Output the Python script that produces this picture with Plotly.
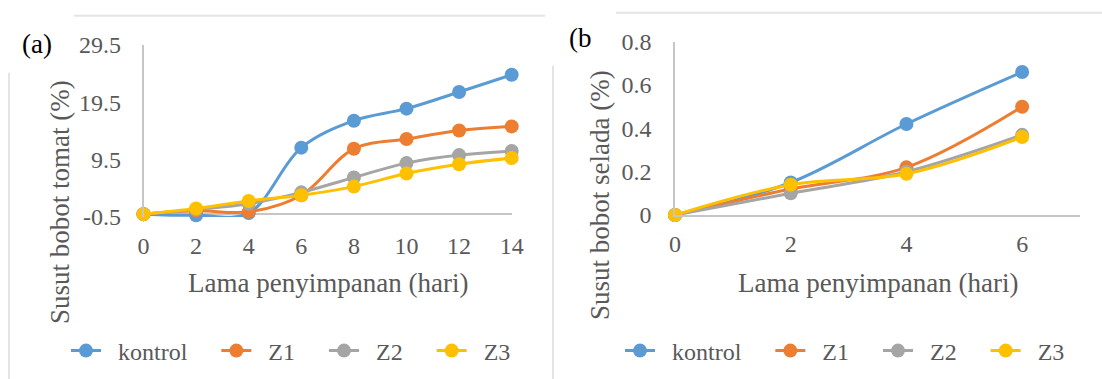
import plotly.graph_objects as go

# Weight loss during storage: (a) tomato, (b) lettuce
days_a = [0, 2, 4, 6, 8, 10, 12, 14]
kontrol_a = [0, -0.2, 0.2, 11.6, 16.3, 18.4, 21.3, 24.3]
z1_a = [0, 0.6, 0.4, 3.3, 11.4, 13.1, 14.6, 15.3]
z2_a = [0, 0.8, 1.8, 3.8, 6.4, 8.9, 10.3, 11.0]
z3_a = [0, 1.0, 2.3, 3.3, 4.8, 7.1, 8.7, 9.8]

days_b = [0, 2, 4, 6]
kontrol_b = [0, 0.15, 0.42, 0.66]
z1_b = [0, 0.12, 0.22, 0.50]
z2_b = [0, 0.10, 0.20, 0.37]
z3_b = [0, 0.14, 0.19, 0.36]

series_names = ["kontrol", "Z1", "Z2", "Z3"]
colors = ["#5B9BD5", "#ED7D31", "#A5A5A5", "#FFC000"]

yticks_a = [-0.5, 9.5, 19.5, 29.5]
ytick_text_a = ["-0.5", "9.5", "19.5", "29.5"]
xticks_a = [0, 2, 4, 6, 8, 10, 12, 14]
yticks_b = [0, 0.2, 0.4, 0.6, 0.8]
ytick_text_b = ["0", "0.2", "0.4", "0.6", "0.8"]
xticks_b = [0, 2, 4, 6]

W, H = 1102, 379
FONT = "Liberation Serif, Times New Roman, serif"
GREY_TEXT = "#595959"
AXIS_GREY = "#C6C6C6"
FRAME_GREY = "#E4E4E4"
NBSP = "\u00a0"


def px(x):
    return x / W


def py(y):
    return 1 - y / H


def legend_label(name):
    # pad legend entries so the symbol/text spacing is wider than plotly's default
    return NBSP * 2 + name + NBSP * 4


fig = go.Figure()

for name, ys, c in zip(series_names, [kontrol_a, z1_a, z2_a, z3_a], colors):
    fig.add_trace(go.Scatter(
        x=days_a, y=ys, name=legend_label(name), mode="lines+markers",
        line=dict(color=c, width=3, shape="spline", smoothing=1.0),
        marker=dict(color=c, size=14),
        xaxis="x", yaxis="y", legend="legend", cliponaxis=False,
    ))

for name, ys, c in zip(series_names, [kontrol_b, z1_b, z2_b, z3_b], colors):
    fig.add_trace(go.Scatter(
        x=days_b, y=ys, name=legend_label(name), mode="lines+markers",
        line=dict(color=c, width=3, shape="spline", smoothing=1.0),
        marker=dict(color=c, size=14),
        xaxis="x2", yaxis="y2", legend="legend2", cliponaxis=False,
    ))

tickfont = dict(family=FONT, size=24, color=GREY_TEXT)
hidden_tick = dict(ticks="outside", tickcolor="rgba(0,0,0,0)", automargin=False)

legend_common = dict(orientation="h", xanchor="left", yanchor="middle",
                     xref="container", yref="container",
                     font=dict(family=FONT, size=24, color=GREY_TEXT),
                     bgcolor="rgba(0,0,0,0)", itemclick=False)

fig.update_layout(
    width=W, height=H,
    margin=dict(l=0, r=0, t=0, b=0, autoexpand=False),
    paper_bgcolor="white", plot_bgcolor="white",
    font=dict(family=FONT, color=GREY_TEXT),
    xaxis=dict(domain=[px(143.5), px(511.7)], range=[0, 14], tickvals=xticks_a,
               showgrid=False, zeroline=False, showline=False,
               tickfont=tickfont, ticklen=7, anchor="y", **hidden_tick),
    yaxis=dict(domain=[py(217), py(45)], range=[-0.5, 29.5], tickvals=yticks_a,
               ticktext=ytick_text_a, showgrid=False, zeroline=True,
               zerolinecolor=AXIS_GREY, zerolinewidth=1.5,
               showline=True, linecolor=AXIS_GREY, linewidth=1.5,
               tickfont=tickfont, ticklen=16, anchor="x", **hidden_tick),
    xaxis2=dict(domain=[px(675), px(1080)], range=[0, 7], tickvals=xticks_b,
                showgrid=False, zeroline=False, showline=True,
                linecolor=AXIS_GREY, linewidth=1.5,
                tickfont=tickfont, ticklen=6, anchor="y2", **hidden_tick),
    yaxis2=dict(domain=[py(215), py(41.7)], range=[0, 0.8], tickvals=yticks_b,
                ticktext=ytick_text_b, showgrid=False, zeroline=False,
                showline=True, linecolor=AXIS_GREY, linewidth=1.5,
                tickfont=tickfont, ticklen=17, anchor="x2", **hidden_tick),
    legend=dict(x=px(66), y=py(351), **legend_common),
    legend2=dict(x=px(620), y=py(351), **legend_common),
    showlegend=True,
)

# Axis titles and panel labels
title_font = dict(family=FONT, size=27, color=GREY_TEXT)
annotations = [
    dict(text="Lama penyimpanan (hari)", x=px(328), y=py(283)),
    dict(text="Lama penyimpanan (hari)", x=px(878), y=py(283)),
    dict(text="Susut bobot tomat (%)", x=px(60), y=py(202), textangle=-90),
    dict(text="Susut bobot selada (%)", x=px(600), y=py(195), textangle=-90),
]
for a in annotations:
    fig.add_annotation(xref="paper", yref="paper", showarrow=False,
                       xanchor="center", yanchor="middle", font=title_font, **a)

label_font = dict(family=FONT, size=27, color="#000000")
fig.add_annotation(text="(a)", x=px(37), y=py(44), xref="paper", yref="paper",
                   xanchor="center", yanchor="middle", showarrow=False, font=label_font)
fig.add_annotation(text="(b", x=px(580), y=py(38), xref="paper", yref="paper",
                   xanchor="center", yanchor="middle", showarrow=False, font=label_font)

# Chart-area frame edges
frame = [
    (74, 15.7, 545, 15.7),
    (9, 72.7, 9, 379),
    (616, 12.7, 1102, 12.7),
    (553, 65.7, 553, 379),
]
for x0, y0, x1, y1 in frame:
    fig.add_shape(type="line", xref="paper", yref="paper",
                  x0=px(x0), y0=py(y0), x1=px(x1), y1=py(y1),
                  line=dict(color=FRAME_GREY, width=2), layer="below")

fig.write_html("out.html")
